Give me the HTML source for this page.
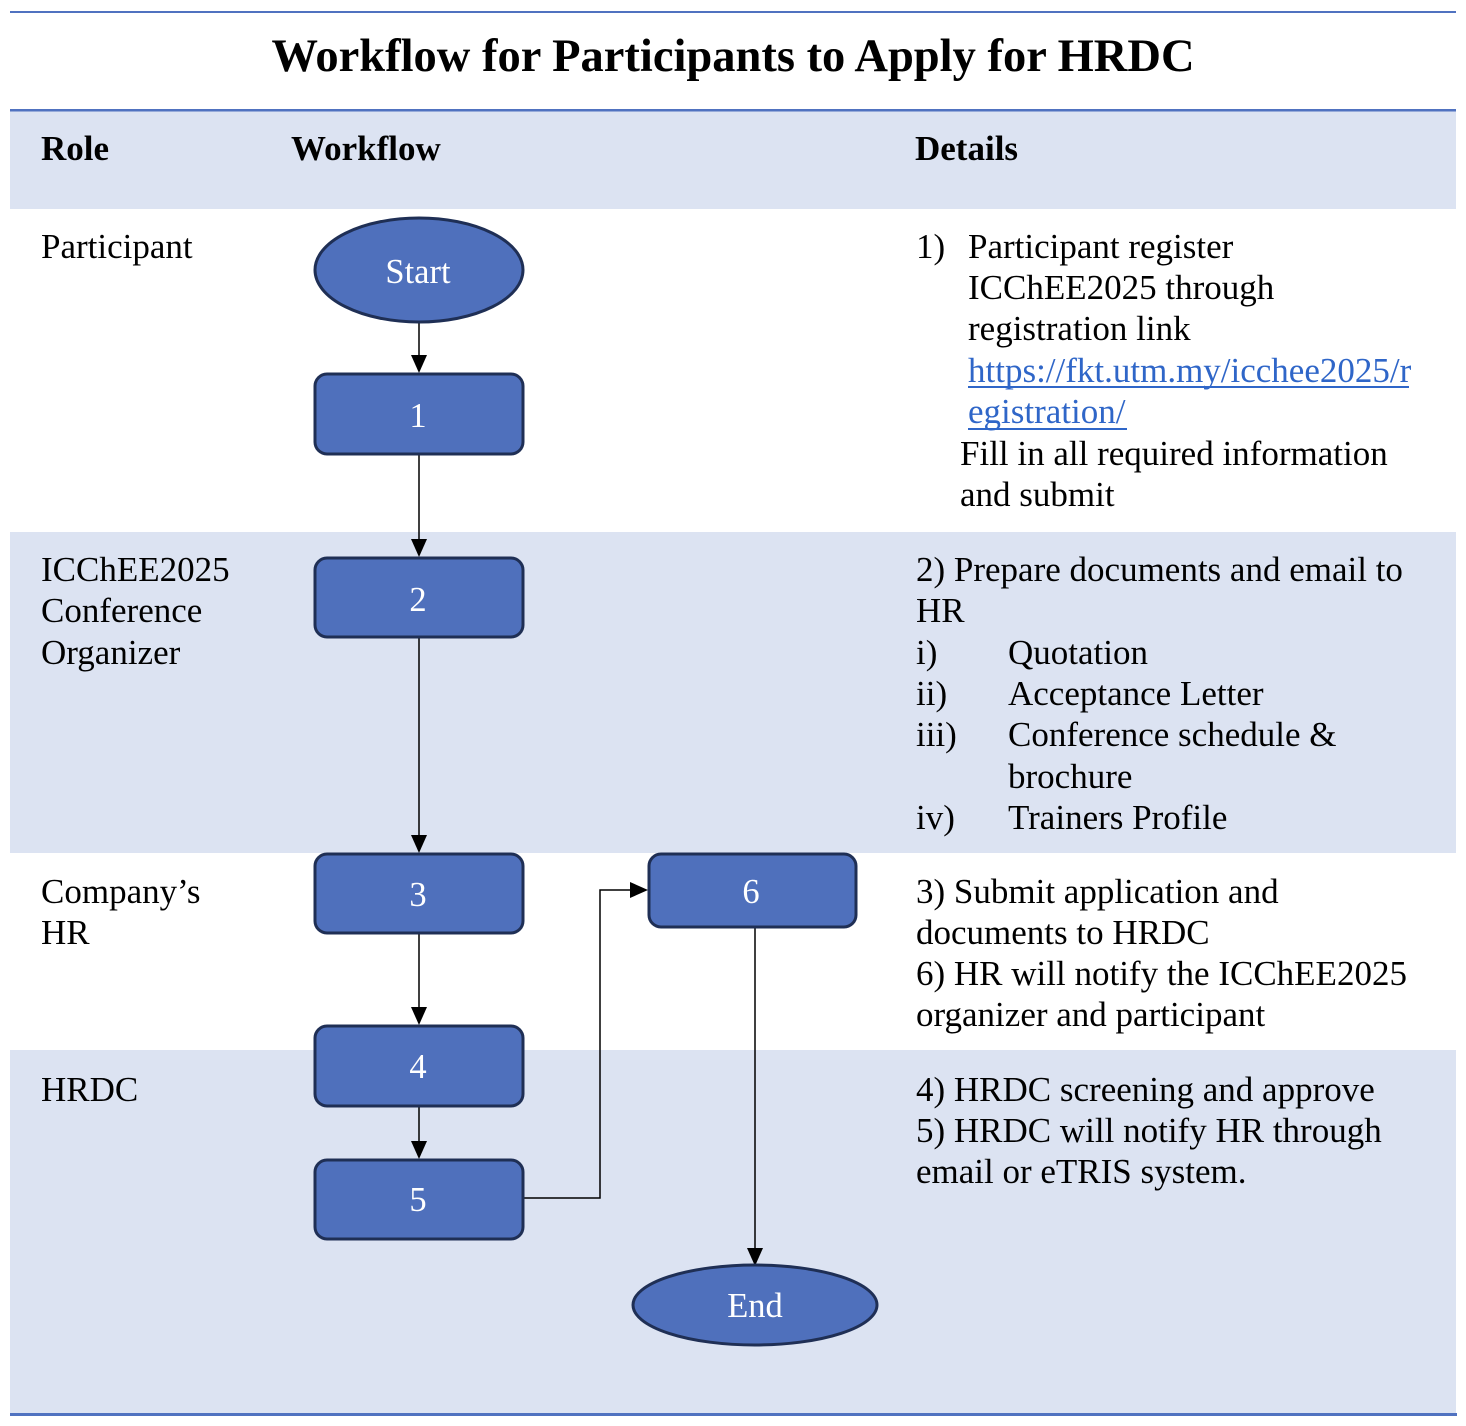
<!DOCTYPE html>
<html><head><meta charset="utf-8"><style>
html,body{margin:0;padding:0;background:#fff;}
svg{display:block;}
text{font-family:"Liberation Serif","Times New Roman",serif;}
</style></head><body>
<svg width="1466" height="1426" viewBox="0 0 1466 1426" xmlns="http://www.w3.org/2000/svg">
<rect x="0" y="0" width="1466" height="1426" fill="#fff"/>
<!-- bands -->
<rect x="10" y="110" width="1446" height="99" fill="#DCE3F2"/>
<rect x="10" y="532" width="1446" height="321" fill="#DCE3F2"/>
<rect x="10" y="1050" width="1446" height="364" fill="#DCE3F2"/>
<!-- rules -->
<rect x="10" y="11" width="1446" height="2" fill="#5072C0"/>
<rect x="10" y="109" width="1446" height="2.5" fill="#5072C0"/>
<rect x="10" y="1413" width="1447" height="3" fill="#5072C0"/>
<!-- title -->
<text x="733" y="71" font-size="46.5" font-weight="bold" text-anchor="middle" fill="#000">Workflow for Participants to Apply for HRDC</text>
<!-- header -->
<g font-size="35" font-weight="bold" fill="#000">
<text x="41" y="160">Role</text>
<text x="291" y="160">Workflow</text>
<text x="915" y="160">Details</text>
</g>
<!-- roles -->
<g font-size="35" fill="#000">
<text x="41" y="258">Participant</text>
<text x="41" y="581">ICChEE2025</text>
<text x="41" y="622">Conference</text>
<text x="41" y="664">Organizer</text>
<text x="41" y="903">Company’s</text>
<text x="41" y="944">HR</text>
<text x="41" y="1101">HRDC</text>
</g>
<!-- details -->
<g font-size="35" fill="#000">
<text x="916" y="258">1)</text>
<text x="968" y="258">Participant register</text>
<text x="968" y="299">ICChEE2025 through</text>
<text x="968" y="340">registration link</text>
<text x="968" y="382" fill="#2F66C8">https://fkt.utm.my/icchee2025/r</text>
<rect x="968" y="386" width="441" height="2" fill="#2F66C8"/>
<text x="968" y="423" fill="#2F66C8">egistration/</text>
<rect x="968" y="428" width="159" height="2" fill="#2F66C8"/>
<text x="960" y="465">Fill in all required information</text>
<text x="960" y="506">and submit</text>

<text x="916" y="581">2) Prepare documents and email to</text>
<text x="916" y="622">HR</text>
<text x="916" y="664">i)</text><text x="1008" y="664">Quotation</text>
<text x="916" y="705">ii)</text><text x="1008" y="705">Acceptance Letter</text>
<text x="916" y="746">iii)</text><text x="1008" y="746">Conference schedule &amp;</text>
<text x="1008" y="788">brochure</text>
<text x="916" y="829">iv)</text><text x="1008" y="829">Trainers Profile</text>

<text x="916" y="903">3) Submit application and</text>
<text x="916" y="944">documents to HRDC</text>
<text x="916" y="985">6) HR will notify the ICChEE2025</text>
<text x="916" y="1026">organizer and participant</text>

<text x="916" y="1101">4) HRDC screening and approve</text>
<text x="916" y="1142">5) HRDC will notify HR through</text>
<text x="916" y="1183">email or eTRIS system.</text>
</g>
<!-- connectors -->
<g stroke="#000" stroke-width="1.5" fill="none">
<line x1="419" y1="323" x2="419" y2="357"/>
<line x1="419" y1="455" x2="419" y2="541"/>
<line x1="419" y1="638" x2="419" y2="837"/>
<line x1="419" y1="934" x2="419" y2="1009"/>
<line x1="419" y1="1107" x2="419" y2="1143"/>
<polyline points="524,1198 600,1198 600,890 632,890"/>
<line x1="755" y1="928" x2="755" y2="1250"/>
</g>
<g fill="#000">
<polygon points="411,355 427,355 419,373"/>
<polygon points="411,539 427,539 419,557"/>
<polygon points="411,835 427,835 419,853"/>
<polygon points="411,1007 427,1007 419,1025"/>
<polygon points="411,1141 427,1141 419,1159"/>
<polygon points="630,882 630,898 648,890"/>
<polygon points="747,1248 763,1248 755,1266"/>
</g>
<!-- shapes -->
<g fill="#4F70BC" stroke="#1F2F55" stroke-width="3">
<ellipse cx="419" cy="270" rx="104" ry="52"/>
<rect x="315" y="374" width="208" height="80" rx="12"/>
<rect x="315" y="558" width="208" height="79" rx="12"/>
<rect x="315" y="854" width="208" height="79" rx="12"/>
<rect x="315" y="1026" width="208" height="80" rx="12"/>
<rect x="315" y="1160" width="208" height="79" rx="12"/>
<rect x="649" y="854" width="207" height="73" rx="12"/>
<ellipse cx="755" cy="1305" rx="122" ry="40"/>
</g>
<g font-size="34.5" fill="#fff" text-anchor="middle">
<text x="418" y="283">Start</text>
<text x="418" y="427">1</text>
<text x="418" y="611">2</text>
<text x="418" y="906">3</text>
<text x="418" y="1078">4</text>
<text x="418" y="1211">5</text>
<text x="751" y="903">6</text>
<text x="755" y="1317">End</text>
</g>
</svg>
</body></html>
